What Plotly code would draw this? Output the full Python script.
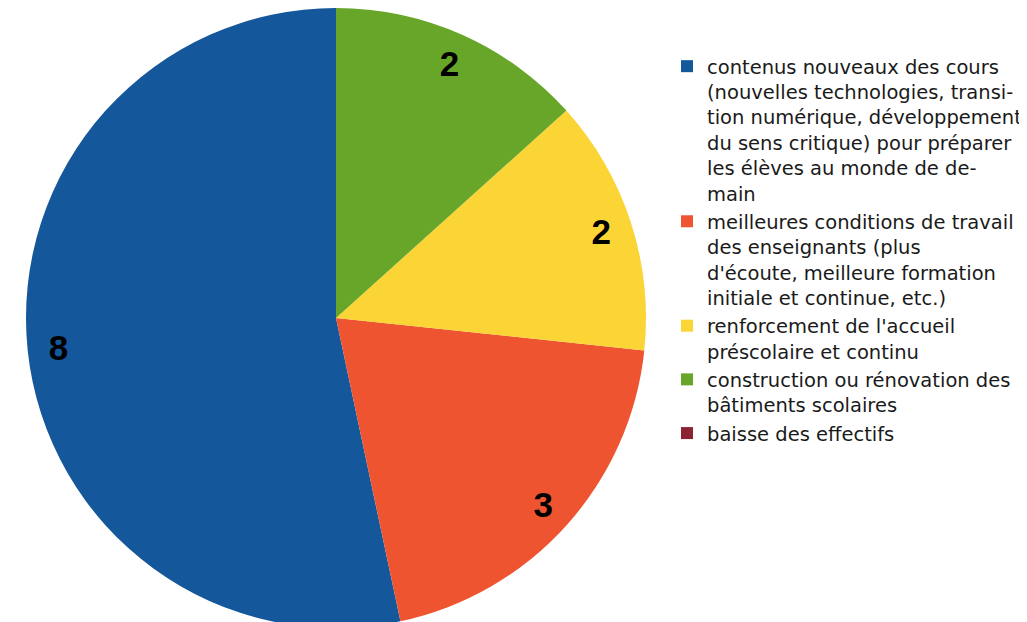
import plotly.graph_objects as go

categories = [
    "contenus nouveaux des cours<br>(nouvelles technologies, transi-<br>tion numérique, développement<br>du sens critique) pour préparer<br>les élèves au monde de de-<br>main",
    "meilleures conditions de travail<br>des enseignants (plus<br>d'écoute, meilleure formation<br>initiale et continue, etc.)",
    "renforcement de l'accueil<br>préscolaire et continu",
    "construction ou rénovation des<br>bâtiments scolaires",
    "baisse des effectifs",
]
values = [8, 3, 2, 2, 0]
colors = ["#14579A", "#EE5430", "#FBD436", "#67A628", "#8B2430"]

# the page body adds an 8px offset; the figure bottom runs past the window edge
W, H = 1019, 630
cx, cy, r = 328, 310, 310
dom_x = [(cx - r) / W, (cx + r) / W]
dom_y = [max(0, (H - cy - r) / H), min(1, (H - cy + r) / H)]

# first slice runs counterclockwise from 12 o'clock
rot = 360 * (sum(values) - values[0]) / sum(values)

fig = go.Figure()
fig.add_trace(go.Pie(
    labels=categories, values=values, sort=False,
    direction="counterclockwise", rotation=rot,
    marker=dict(colors=colors, line=dict(width=0)),
    textinfo="none", hoverinfo="label+value",
    domain=dict(x=dom_x, y=dom_y),
))
# transparent ring to place value labels near the outer edge
fig.add_trace(go.Pie(
    labels=categories, values=values, sort=False,
    direction="counterclockwise", rotation=rot, hole=0.8,
    marker=dict(colors=["rgba(0,0,0,0)"] * len(values), line=dict(width=0)),
    text=[str(v) if v else "" for v in values],
    textinfo="text", textposition="inside",
    insidetextorientation="horizontal",
    textfont=dict(family="Liberation Sans", size=35, color="black", weight="bold"),
    showlegend=False, hoverinfo="skip",
    domain=dict(x=dom_x, y=dom_y),
))

fig.update_layout(
    width=W, height=H,
    margin=dict(l=0, r=0, t=0, b=0, autoexpand=False),
    paper_bgcolor="white", plot_bgcolor="white",
    legend=dict(
        x=659 / W, y=1 - 39 / H, xanchor="left", yanchor="top",
        font=dict(family="DejaVu Sans", size=19.5, color="#1a1a1a"),
        valign="top", itemwidth=30, bgcolor="rgba(0,0,0,0)",
        traceorder="normal",
    ),
)

fig.write_html("out.html")
